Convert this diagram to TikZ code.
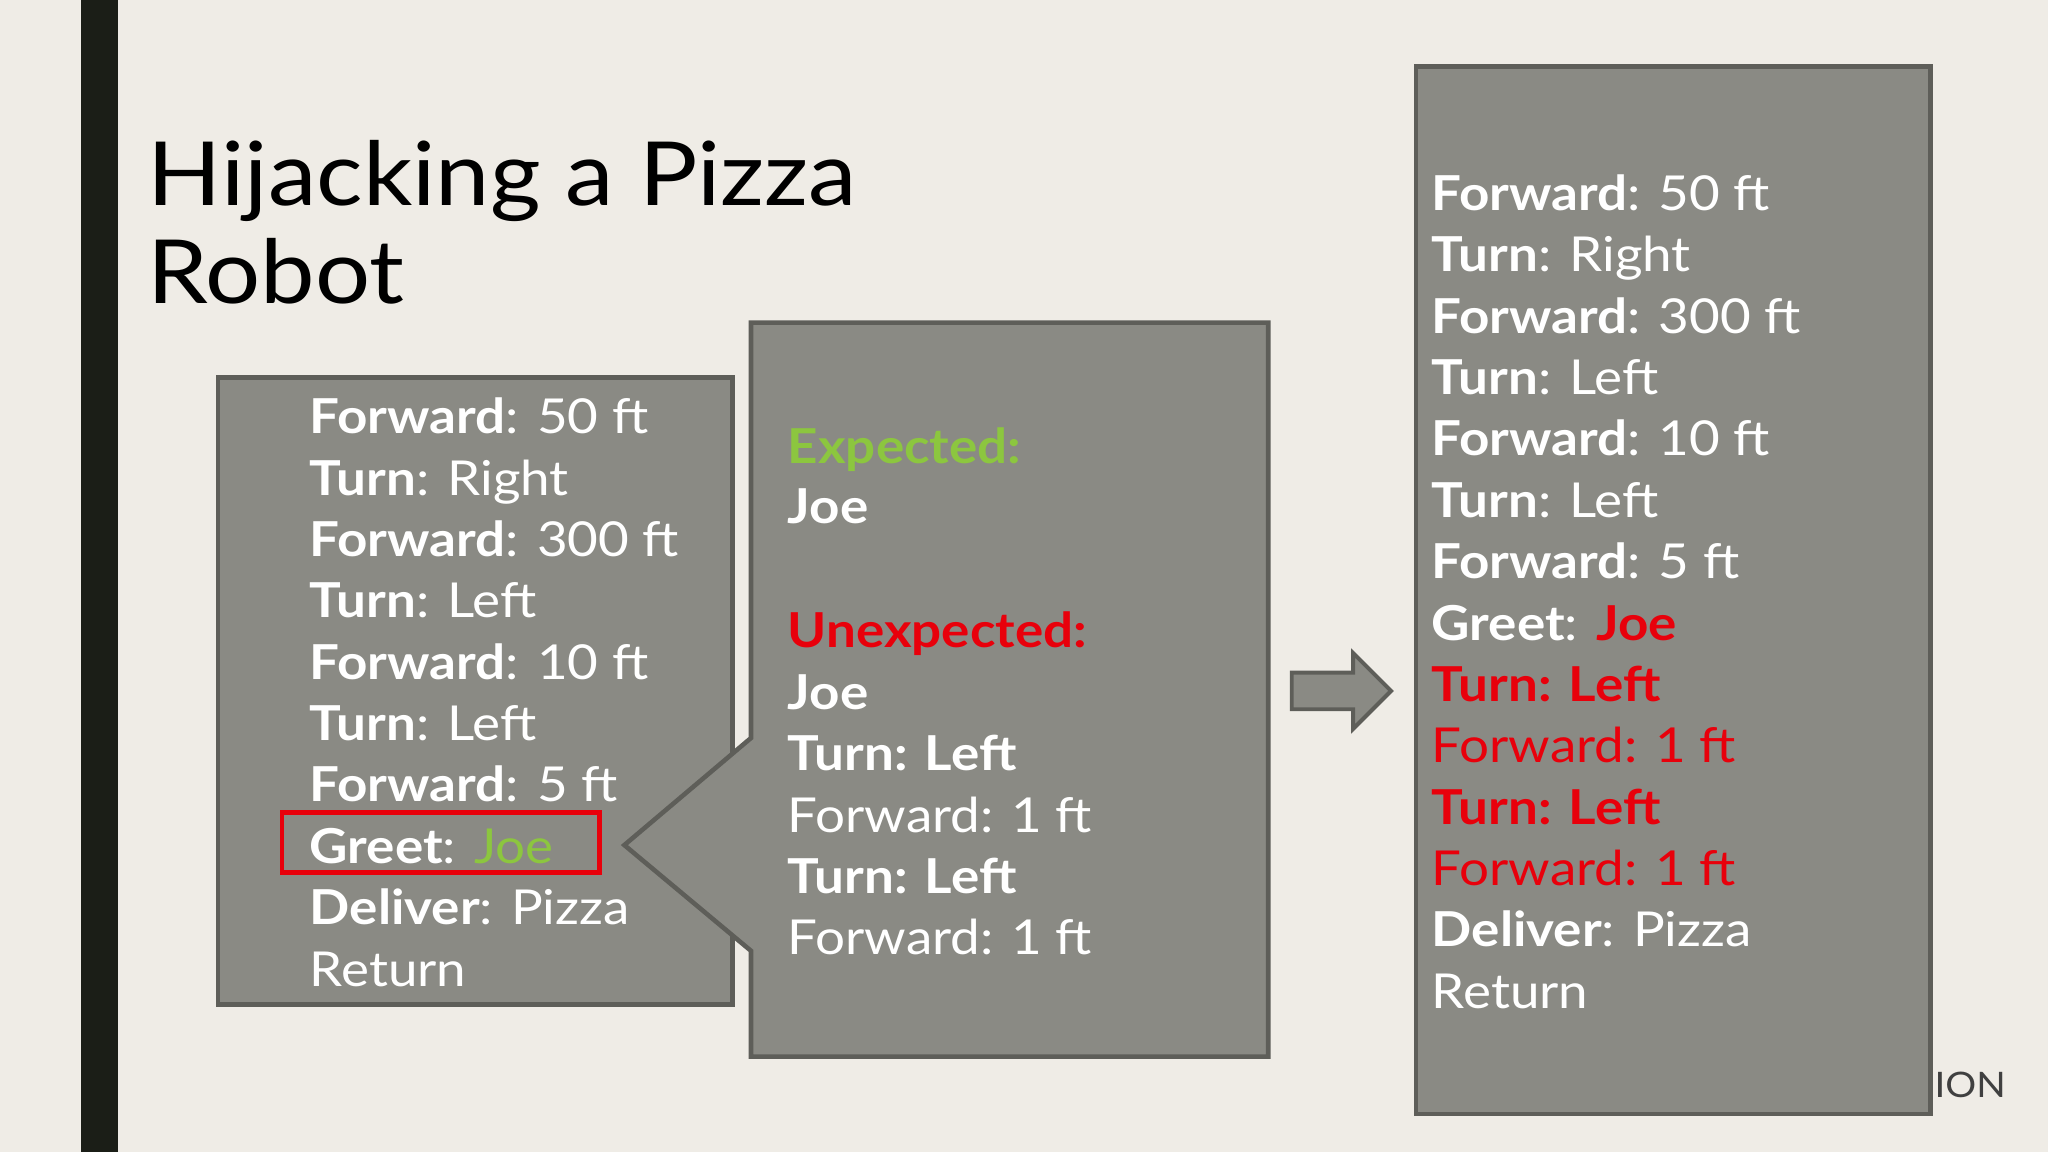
\documentclass[tikz,border=0pt]{standalone}
\usepackage{fontspec}
\setmainfont{Lato}[FakeStretch=1.1]
\definecolor{bg}{HTML}{EFECE6}
\definecolor{bar}{HTML}{1B1E17}
\definecolor{boxg}{HTML}{8A8A84}
\definecolor{boxb}{HTML}{5E5E59}
\definecolor{grn}{HTML}{8CC63F}
\definecolor{rd}{HTML}{E8000B}
\tikzset{x=1bp,y=-1bp,
 pbox/.style={fill=boxg,draw=boxb,line width=3.5bp},
 ln/.style={anchor=base west,inner sep=0,text=white,font=\fontsize{37}{44}\selectfont}}
\begin{document}
\begin{tikzpicture}
\fill[bg] (0,0) rectangle (1568,882);
\useasboundingbox (0,0) rectangle (1568,882);
\fill[bar] (62,0) rectangle (90,882);
\node[anchor=base west,inner sep=0,text=black,font=\fontsize{68}{76}\selectfont,align=left] (title) at (113,157) {Hijacking a Pizza};
\node[anchor=base west,inner sep=0,text=black,font=\fontsize{68}{76}\selectfont] (title2) at (113,232) {Robot};
\node[anchor=base west,inner sep=0,text=black!75,font=\fontsize{27}{30}\selectfont] (ion) at (1481,840) {ION};
% left box
\draw[pbox] (167,289) rectangle (561,769);
\foreach \t [count=\i from 0] in {{\textbf{Forward}: 50 ft},{\textbf{Turn}: Right},{\textbf{Forward}: 300 ft},{\textbf{Turn}: Left},{\textbf{Forward}: 10 ft},{\textbf{Turn}: Left},{\textbf{Forward}: 5 ft},{\textbf{Greet}: \textcolor{grn}{Joe}},{\textbf{Deliver}: Pizza},{Return}}
  \node[ln] (l\i) at (237,{332+47*\i}) {\t};
\draw[rd,line width=3.5bp] (216,622) rectangle (459,668);
% callout
\draw[pbox,line join=miter] (575,247) -- (971,247) -- (971,809) -- (575,809) -- (575,728) -- (478,647) -- (575,565) -- cycle;
\node[ln,text=grn] (c0) at (603,355) {\textbf{Expected:}};
\node[ln] (c1) at (603,401) {\textbf{Joe}};
\node[ln,text=rd] (c2) at (603,496) {\textbf{Unexpected:}};
\node[ln] (c3) at (603,543) {\textbf{Joe}};
\node[ln] (c4) at (603,590) {\textbf{Turn: Left}};
\node[ln] (c5) at (603,637) {Forward: 1 ft};
\node[ln] (c6) at (603,684) {\textbf{Turn: Left}};
\node[ln] (c7) at (603,731) {Forward: 1 ft};
% arrow
\draw[fill=boxg,draw=boxb,line width=3bp,line join=miter] (989,515) -- (1036,515) -- (1036,500) -- (1065,529) -- (1036,558) -- (1036,543) -- (989,543) -- cycle;
% right box
\draw[pbox] (1084,51) rectangle (1478,853);
\foreach \t [count=\i from 0] in {{\textbf{Forward}: 50 ft},{\textbf{Turn}: Right},{\textbf{Forward}: 300 ft},{\textbf{Turn}: Left},{\textbf{Forward}: 10 ft},{\textbf{Turn}: Left},{\textbf{Forward}: 5 ft},{\textbf{Greet}: \textcolor{rd}{\textbf{Joe}}},{\textcolor{rd}{\textbf{Turn: Left}}},{\textcolor{rd}{Forward: 1 ft}},{\textcolor{rd}{\textbf{Turn: Left}}},{\textcolor{rd}{Forward: 1 ft}},{\textbf{Deliver}: Pizza},{Return}}
  \node[ln] (r\i) at (1096,{161+47*\i}) {\t};
\end{tikzpicture}
\end{document}
